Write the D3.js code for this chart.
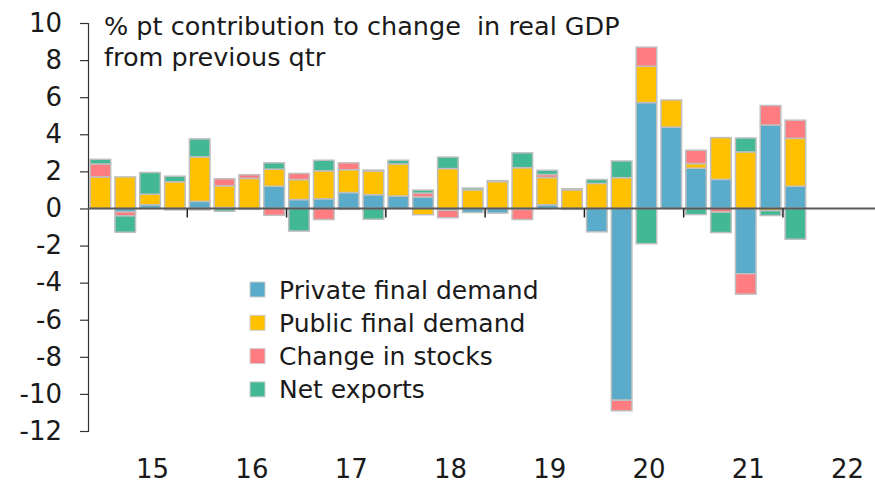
<!DOCTYPE html>
<html>
<head>
<meta charset="utf-8">
<script src="https://cdn.jsdelivr.net/npm/d3@7"></script>
<style>
	body { margin: 0; background: #fff; }
	svg text { font-family: "DejaVu Sans", "Noto Sans", sans-serif; fill: #1a1a1a; }
</style>
</head>
<body>
<svg id="chart" width="875" height="484"></svg>
<script>
'use strict';

//Quarters shown on the axis (data ends at 2022Q1)
var years = [2015, 2016, 2017, 2018, 2019, 2020, 2021, 2022];
var yearLabels = ["15", "16", "17", "18", "19", "20", "21", "22"];
var yTicks = [10, 8, 6, 4, 2, 0, -2, -4, -6, -8, -10, -12];

var quarters = ["2015Q1","2015Q2","2015Q3","2015Q4","2016Q1","2016Q2","2016Q3","2016Q4",
	"2017Q1","2017Q2","2017Q3","2017Q4","2018Q1","2018Q2","2018Q3","2018Q4",
	"2019Q1","2019Q2","2019Q3","2019Q4","2020Q1","2020Q2","2020Q3","2020Q4",
	"2021Q1","2021Q2","2021Q3","2021Q4","2022Q1"];

//% pt contributions
var privateDemand = [0, -0.18, 0.2, -0.08, 0.38, 0.05, -0.05, 1.2, 0.48, 0.52, 0.86, 0.74, 0.67, 0.62, -0.1,
	-0.22, -0.25, -0.05, 0.2, -0.05, -1.26, -10.34, 5.71, 4.39, 2.17, 1.57, -3.52, 4.5, 1.2];
var publicDemand = [1.7, 1.7, 0.57, 1.44, 2.4, 1.17, 1.62, 0.92, 1.08, 1.51, 1.23, 1.28, 1.73, -0.34, 2.15,
	1.0, 1.45, 2.2, 1.47, 1.0, 1.35, 1.66, 1.96, 1.46, 0.25, 2.25, 3.05, -0.12, 2.58];
var stocks = [0.7, -0.22, 0, 0, -0.08, 0.38, 0.2, -0.37, 0.33, -0.6, 0.37, 0.05, 0, 0.21, -0.4,
	0, 0, -0.55, 0.16, 0, 0, -0.57, 1.03, 0, 0.72, -0.2, -1.1, 1.05, 0.98];
var netExports = [0.25, -0.88, 1.17, 0.3, 0.97, -0.15, 0, 0.34, -1.22, 0.57, -0.05, -0.58, 0.2, 0.16, 0.62,
	0.1, 0.05, 0.8, 0.23, 0.06, 0.21, 0.9, -1.9, 0, -0.33, -1.1, 0.75, -0.26, -1.66];

var seriesNames = ["Private final demand", "Public final demand", "Change in stocks", "Net exports"];
var seriesColors = ["#5aacca", "#ffc000", "#ff7c80", "#42b994"];

var svg = d3.select("#chart");

//Build rows for the stack
var rows = quarters.map(function(q, i) {
	return { q: q, s0: privateDemand[i], s1: publicDemand[i], s2: stocks[i], s3: netExports[i] };
});
var keys = ["s0", "s1", "s2", "s3"];

var stacked = d3.stack().keys(keys).offset(d3.stackOffsetDiverging)(rows);

//All quarters of the axis, incl. rest of 2022
var allQuarters = [];
years.forEach(function(y) {
	for(var k = 1; k <= 4; k++)
		allQuarters.push(y + "Q" + k);
});

var axisLeft = 88;
var x = d3.scaleBand().domain(allQuarters).range([axisLeft, axisLeft + allQuarters.length * 24.82])
	.paddingInner(0.17).paddingOuter(0.085);
var y = d3.scaleLinear().domain([-12, 10]).range([431, 23]);

//Bars
var layers = svg.append("g").selectAll("g")
	.data(stacked)
	.join("g")
	.attr("fill", function(d, i) { return seriesColors[i]; });

layers.selectAll("rect")
	.data(function(d) { return d; })
	.join("rect")
	.attr("x", function(d) { return x(d.data.q); })
	.attr("width", x.bandwidth())
	.attr("y", function(d) { return y(Math.max(d[0], d[1])); })
	.attr("height", function(d) { return Math.abs(y(d[0]) - y(d[1])); })
	.attr("stroke", "#bfbfbf")
	.attr("stroke-width", 1.5)
	.attr("display", function(d) { return Math.abs(d[1] - d[0]) < 0.001 ? "none" : null; });

//Y axis (plain hyphen for negatives, as in the original)
var yAxis = svg.append("g")
	.attr("transform", "translate(" + axisLeft + ",0)")
	.call(d3.axisLeft(y).tickValues(yTicks).tickSize(8).tickPadding(18)
		.tickFormat(function(d) { return String(d); }));
yAxis.select(".domain").attr("stroke", "#333").attr("stroke-width", 1.2);
yAxis.selectAll(".tick line").attr("stroke", "#333").attr("stroke-width", 1.2);
yAxis.selectAll("text")
	.attr("font-size", 26)
	.attr("font-family", "DejaVu Sans")
	.attr("fill", "#1a1a1a");

//Zero line with year ticks
var step = x.step();
var yearStart = function(yr) { return x(yr + "Q1") - step * x.paddingInner() / 2; };

svg.append("line")
	.attr("x1", axisLeft).attr("x2", 875)
	.attr("y1", y(0)).attr("y2", y(0))
	.attr("stroke", "#595959").attr("stroke-width", 2);

svg.append("g").selectAll("line")
	.data(years.slice(1))
	.join("line")
	.attr("x1", function(d) { return yearStart(d); })
	.attr("x2", function(d) { return yearStart(d); })
	.attr("y1", y(0)).attr("y2", y(0) + 9)
	.attr("stroke", "#222").attr("stroke-width", 1.5);

//Year labels
svg.append("g").selectAll("text")
	.data(years)
	.join("text")
	.attr("x", function(d) { return yearStart(d) + step * 2 + 15; })
	.attr("y", 478)
	.attr("text-anchor", "middle")
	.attr("font-size", 26)
	.text(function(d, i) { return yearLabels[i]; });

//Title
var title = svg.append("text")
	.attr("x", 104)
	.attr("y", 35)
	.attr("font-size", 25.5)
	.attr("style", "white-space: pre");
title.append("tspan").attr("x", 104).text("% pt contribution to change  in real GDP");
title.append("tspan").attr("x", 104).attr("dy", 31).text("from previous qtr");

//Legend
var legend = svg.append("g").selectAll("g")
	.data(seriesNames)
	.join("g")
	.attr("transform", function(d, i) { return "translate(250," + (282 + i * 33.3) + ")"; });

legend.append("rect")
	.attr("width", 15).attr("height", 15)
	.attr("fill", function(d, i) { return seriesColors[i]; })
	.attr("stroke", "#cfcfcf").attr("stroke-width", 1);

legend.append("text")
	.attr("x", 29)
	.attr("y", 16.5)
	.attr("font-size", 25)
	.text(function(d) { return d; });
</script>
</body>
</html>
